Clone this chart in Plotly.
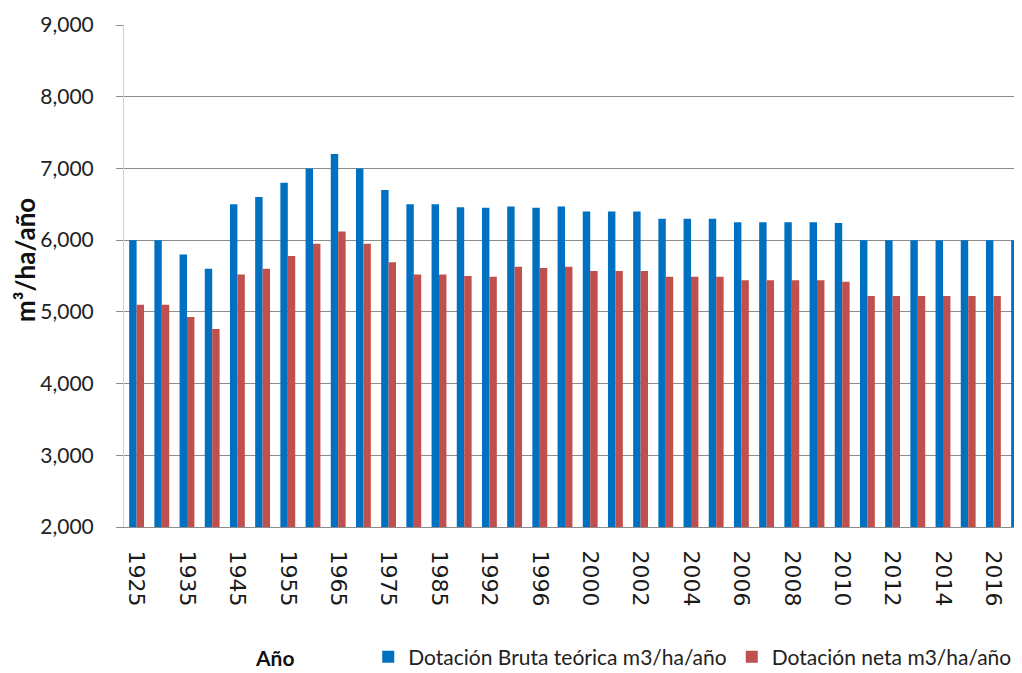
import plotly.graph_objects as go

categories = ["1925", "1930", "1935", "1940", "1945", "1950", "1955", "1960", "1965", "1970",
              "1975", "1980", "1985", "1990", "1992", "1994", "1996", "1998", "2000", "2001",
              "2002", "2003", "2004", "2005", "2006", "2007", "2008", "2009", "2010", "2011",
              "2012", "2013", "2014", "2015", "2016", "2017"]
bruta = [6000, 6000, 5800, 5600, 6500, 6600, 6800, 7000, 7200, 7000,
         6700, 6500, 6500, 6460, 6450, 6470, 6450, 6470, 6400, 6400,
         6400, 6300, 6300, 6300, 6250, 6250, 6250, 6250, 6240, 6000,
         6000, 6000, 6000, 6000, 6000, 6000]
neta = [5100, 5100, 4930, 4760, 5520, 5600, 5780, 5950, 6120, 5950,
        5690, 5520, 5520, 5500, 5490, 5630, 5610, 5630, 5570, 5570,
        5570, 5490, 5490, 5490, 5440, 5440, 5440, 5440, 5420, 5220,
        5220, 5220, 5220, 5220, 5220, 5220]
tick_labels = categories[::2]
y_ticks = [2000, 3000, 4000, 5000, 6000, 7000, 8000, 9000]

name_bruta = "Dotación Bruta teórica m3/ha/año"
name_neta = "Dotación neta m3/ha/año"

fig = go.Figure()
fig.add_trace(go.Bar(x=categories, y=bruta, name=name_bruta,
                     marker=dict(color="#0070C0", line=dict(width=0))))
fig.add_trace(go.Bar(x=categories, y=neta, name=name_neta,
                     marker=dict(color="#C0504D", line=dict(width=0))))

# the page body adds an 8px offset, so the figure covers the window from (8, 8)
fig.update_layout(
    width=1014, height=665,
    margin=dict(l=116, r=0, t=17, b=146, autoexpand=False),
    paper_bgcolor="white", plot_bgcolor="white",
    barmode="group", bargap=0.41, bargroupgap=0,
    font=dict(family="Lato", size=21, color="#222222"),
    showlegend=True,
    legend=dict(orientation="h", x=0.272, xanchor="left", y=-0.259, yanchor="middle",
                font=dict(family="Lato", size=21, color="#222222"),
                bgcolor="rgba(0,0,0,0)", itemclick=False, tracegroupgap=0),
    xaxis=dict(type="category", range=[-0.5, 35.135], automargin=False,
               tickmode="array", tickvals=tick_labels, ticktext=tick_labels,
               tickangle=90, tickfont=dict(family="DejaVu Sans", size=22, color="#1a1a1a"),
               ticklabelstandoff=18,
               showgrid=False, showline=True, linecolor="#8c8c8c", linewidth=1,
               ticks="", zeroline=False),
    yaxis=dict(range=[2000, 9000], tickmode="array", tickvals=y_ticks, automargin=False,
               tickformat=",", tickfont=dict(family="Lato", size=21, color="#222222"),
               showgrid=True, gridcolor="#8c8c8c", gridwidth=1,
               showline=True, linecolor="#d0d0d0", linewidth=1,
               ticks="outside", ticklen=7, tickcolor="#8c8c8c",
               ticklabelstandoff=18, zeroline=False),
    annotations=[
        dict(text="<b>m³/ha/año</b>", xref="paper", yref="paper",
             x=-0.1102, y=0.532, xanchor="center", yanchor="middle", textangle=-90,
             showarrow=False, font=dict(family="Lato", size=26, color="#111111")),
        dict(text="<b>Año</b>", xref="paper", yref="paper",
             x=0.168, y=-0.259, xanchor="center", yanchor="middle",
             showarrow=False, font=dict(family="Lato", size=21, color="#111111")),
    ],
)

fig.write_html("out.html")
